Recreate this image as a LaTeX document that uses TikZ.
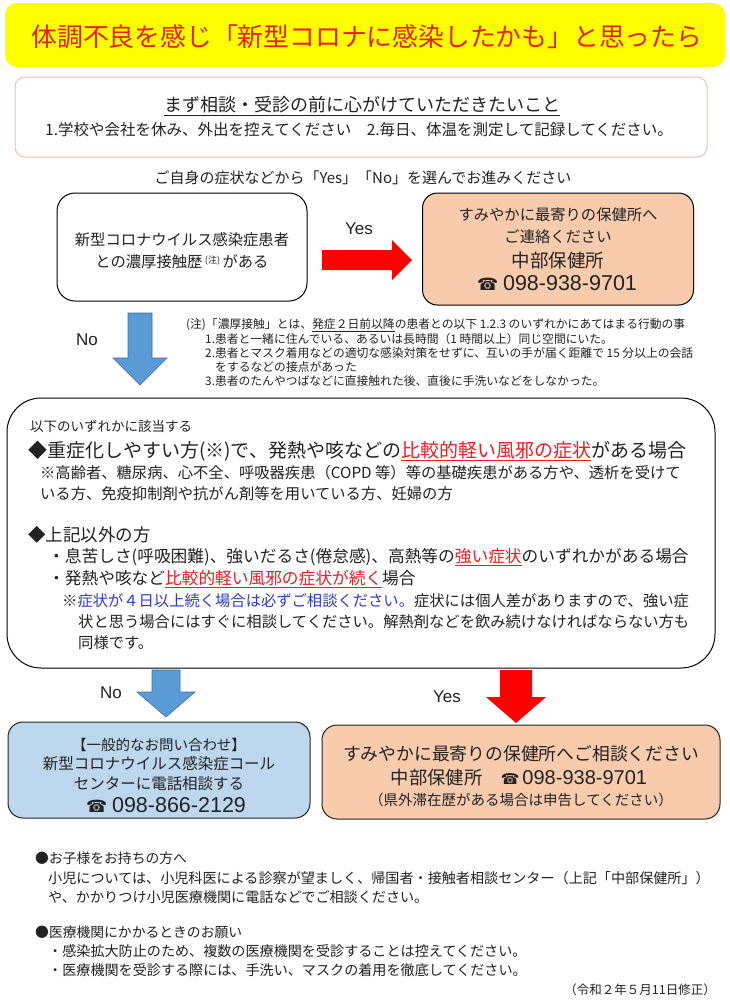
\documentclass[tikz,border=0pt]{standalone}
\usepackage{fontspec}
\setmainfont{Noto Sans CJK JP}
\newfontfamily\arl{Liberation Sans}
\newfontfamily\djv{DejaVu Sans}
\usetikzlibrary{calc}
\definecolor{titlered}{HTML}{E8211C}
\definecolor{txtred}{HTML}{EE1C25}
\definecolor{txtblue}{HTML}{2E3BD0}
\definecolor{ylw}{HTML}{FFFF00}
\definecolor{peach}{HTML}{F8CBAD}
\definecolor{lblue}{HTML}{BDD7EE}
\definecolor{arrblue}{HTML}{5B9BD5}
\definecolor{arrblueline}{HTML}{41719C}
\definecolor{salmon}{HTML}{F0C0B0}
\definecolor{greytxt}{HTML}{222222}
\newcommand\fs[1]{\fontsize{#1}{#1}\selectfont}
\newcommand\tel{{\djv ☎}}
\newcommand\rul[1]{\textcolor{txtred}{\underline{#1}}}
\begin{document}
\begin{tikzpicture}[x=1pt,y=-1pt,
  txt/.style={inner sep=0pt,text=greytxt},
  lt/.style={txt,anchor=west},
  boxline/.style={draw=black,line width=1pt},
  fatred/.style={fill=red,draw=none},
  fatblue/.style={fill=arrblue,draw=arrblueline,line width=0.6pt}]
\useasboundingbox (0,0) rectangle (730,1002);
\fill[white] (0,0) rectangle (730,1002);
% title
\node[fill=ylw,rounded corners=12pt,minimum width=720pt,minimum height=64pt,inner sep=0pt] (title) at (365,35) {};
\node[inner sep=0pt,text=titlered,font=\fs{25.8}] (titletxt) at (367,37) {体調不良を感じ「新型コロナに感染したかも」と思ったら};
% box 2
\node[draw=salmon,line width=1pt,rounded corners=10pt,minimum width=692pt,minimum height=80pt,inner sep=0pt] (pre) at (361,117) {};
\node[txt,font=\fs{18}] (pretitle) at (362,106) {\underline{まず相談・受診の前に心がけていただきたいこと}};
\node[txt,font=\fs{15.5}] (preline) at (359,130) {1.学校や会社を休み、外出を控えてください　2.毎日、体温を測定して記録してください。};
\node[txt,font=\fs{15}] (select) at (363,178) {ご自身の症状などから「Yes」「No」を選んでお進みください};
% question box
\node[boxline,rounded corners=18pt,minimum width=250pt,minimum height=108pt,inner sep=0pt] (q) at (182,247) {};
\node[txt,font=\fs{15.3}] (q1) at (182,240) {新型コロナウイルス感染症患者};
\node[txt,font=\fs{15.3}] (q2) at (182,262) {との濃厚接触歴\,{\fs{9}\raisebox{4pt}{(注)}}\,がある};
% right orange box
\node[boxline,fill=peach,rounded corners=15pt,minimum width=271pt,minimum height=112pt,inner sep=0pt] (r1) at (558,249) {};
\node[txt,font=\fs{15.3}] (r1a) at (558,215) {すみやかに最寄りの保健所へ};
\node[txt,font=\fs{15.3}] (r1b) at (558,237) {ご連絡ください};
\node[txt,font=\fs{18.5}] (r1c) at (558,260) {中部保健所};
\node[txt,font=\fs{21.5}] (r1d) at (557,283) {{\fs{17}\tel}\ {\arl 098-938-9701}};
% yes arrow
\node[txt,font=\arl\fs{17}] (yes1) at (359,229) {Yes};
\fill[fatred] (322,250) -- (392,250) -- (392,240) -- (412,260) -- (392,280) -- (392,270) -- (322,270) -- cycle;
% no arrow 1
\node[txt,font=\arl\fs{17}] (no1) at (87,340) {No};
\filldraw[fatblue] (128,313) -- (152,313) -- (152,358) -- (167,358) -- (140,385) -- (113,358) -- (128,358) -- cycle;
% note
\node[lt,font=\fs{11.8}] (n1) at (186,325) {(注)「濃厚接触」とは、\underline{発症２日前以降}の患者との以下 1.2.3 のいずれかにあてはまる行動の事};
\node[lt,font=\fs{11.8}] (n2) at (205,339) {1.患者と一緒に住んでいる、あるいは長時間（1 時間以上）同じ空間にいた。};
\node[lt,font=\fs{11.8}] (n3) at (205,353) {2.患者とマスク着用などの適切な感染対策をせずに、互いの手が届く距離で 15 分以上の会話};
\node[lt,font=\fs{11.8}] (n4) at (215,367) {をするなどの接点があった};
\node[lt,font=\fs{11.8}] (n5) at (205,381) {3.患者のたんやつばなどに直接触れた後、直後に手洗いなどをしなかった。};
% big box
\node[boxline,rounded corners=34pt,minimum width=708pt,minimum height=270pt,inner sep=0pt] (big) at (361,533) {};
\node[lt,font=\fs{13.5}] (b0) at (30,426) {以下のいずれかに該当する};
\node[lt,font=\fs{19}] (b1) at (28,451) {◆重症化しやすい方(※)で、発熱や咳などの\rul{比較的軽い風邪の症状}がある場合};
\node[lt,font=\fs{15.3}] (b2) at (40,473) {※高齢者、糖尿病、心不全、呼吸器疾患（COPD 等）等の基礎疾患がある方や、透析を受けて};
\node[lt,font=\fs{15.3}] (b3) at (40,494) {いる方、免疫抑制剤や抗がん剤等を用いている方、妊婦の方};
\node[lt,font=\fs{17.5}] (b4) at (28,535) {◆上記以外の方};
\node[lt,font=\fs{16.7}] (b5) at (48,557) {・息苦しさ(呼吸困難)、強いだるさ(倦怠感)、高熱等の\rul{強い症状}のいずれかがある場合};
\node[lt,font=\fs{16.7}] (b6) at (48,579) {・発熱や咳など\rul{比較的軽い風邪の症状が続く}場合};
\node[lt,font=\fs{15.3}] (b7) at (62,601) {※\textcolor{txtblue}{症状が４日以上続く場合は必ずご相談ください。}症状には個人差がありますので、強い症};
\node[lt,font=\fs{15.3}] (b8) at (78,622) {状と思う場合にはすぐに相談してください。解熱剤などを飲み続けなければならない方も};
\node[lt,font=\fs{15.3}] (b9) at (78,643) {同様です。};
% bottom arrows
\node[txt,font=\arl\fs{17}] (no2) at (111,693) {No};
\filldraw[fatblue] (152,670) -- (180,670) -- (180,692) -- (195,692) -- (166,717) -- (137,692) -- (152,692) -- cycle;
\node[txt,font=\arl\fs{17}] (yes2) at (447,697) {Yes};
\fill[fatred] (500,670) -- (532,670) -- (532,697) -- (546,697) -- (516,723) -- (486,697) -- (500,697) -- cycle;
% bottom left box
\node[draw=greytxt,line width=1pt,fill=lblue,rounded corners=15pt,minimum width=302pt,minimum height=96pt,inner sep=0pt] (bl) at (159,770) {};
\node[txt,font=\fs{14.5}] (bl1) at (159,745) {【一般的なお問い合わせ】};
\node[txt,font=\fs{15.5}] (bl2) at (159,764) {新型コロナウイルス感染症コール};
\node[txt,font=\fs{15.5}] (bl3) at (159,784) {センターに電話相談する};
\node[txt,font=\fs{21.5}] (bl4) at (166,805) {{\fs{17}\tel}\ {\arl 098-866-2129}};
% bottom right box
\node[draw=greytxt,line width=1pt,fill=peach,rounded corners=15pt,minimum width=398pt,minimum height=94pt,inner sep=0pt] (br) at (521,772) {};
\node[txt,font=\fs{17.8}] (br1) at (521,754) {すみやかに最寄りの保健所へご相談ください};
\node[txt,font=\fs{18.3}] (br2) at (519,778) {中部保健所　{\fs{15}\tel}\,{\arl\fs{20}098-938-9701}};
\node[txt,font=\fs{14.5}] (br3) at (521,800) {（県外滞在歴がある場合は申告してください）};
% footer
\node[lt,font=\fs{13.8}] (f1) at (35,858) {●お子様をお持ちの方へ};
\node[lt,font=\fs{14.1}] (f2) at (48,878) {小児については、小児科医による診察が望ましく、帰国者・接触者相談センター（上記「中部保健所」）};
\node[lt,font=\fs{14.1}] (f3) at (48,897) {や、かかりつけ小児医療機関に電話などでご相談ください。};
\node[lt,font=\fs{13.8}] (f4) at (35,932) {●医療機関にかかるときのお願い};
\node[lt,font=\fs{14.1}] (f5) at (48,951) {・感染拡大防止のため、複数の医療機関を受診することは控えてください。};
\node[lt,font=\fs{14.1}] (f6) at (48,970) {・医療機関を受診する際には、手洗い、マスクの着用を徹底してください。};
\node[txt,anchor=east,font=\fs{12.5}] (f7) at (716,990) {（令和２年５月11日修正）};
\end{tikzpicture}
\end{document}
